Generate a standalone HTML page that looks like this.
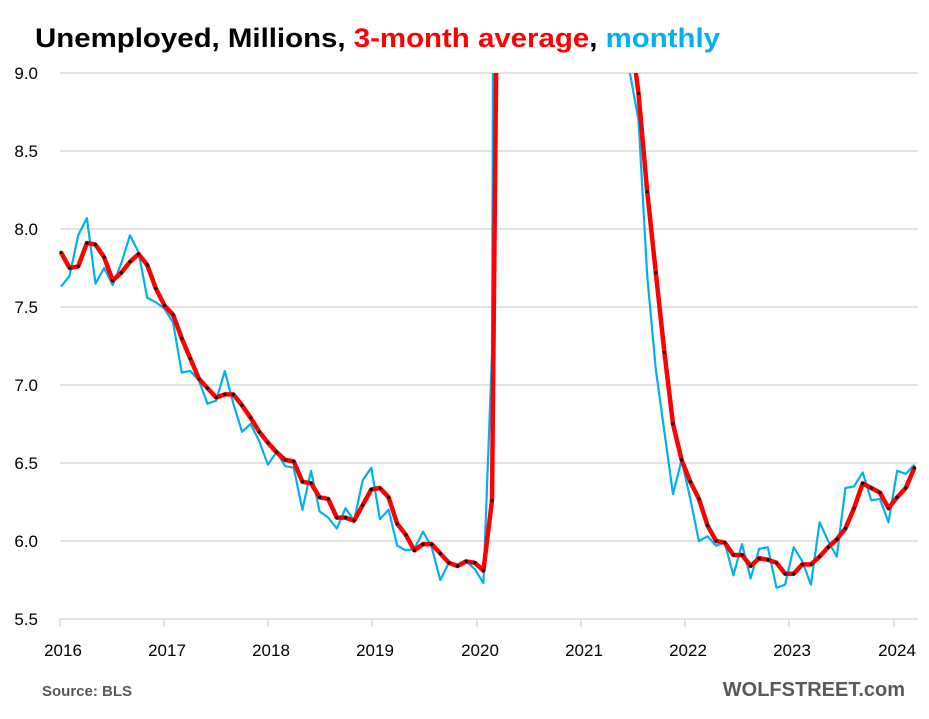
<!DOCTYPE html>
<html><head><meta charset="utf-8"><style>
html,body{margin:0;padding:0;background:#fff;}
svg{display:block;}
text{font-family:"Liberation Sans",sans-serif;}
</style></head><body>
<svg id="c" width="929" height="719" viewBox="0 0 929 719" xmlns="http://www.w3.org/2000/svg">
<defs><clipPath id="cp"><rect x="55" y="73" width="870" height="547"/></clipPath></defs>
<text x="35" y="47" font-size="27" font-weight="bold" textLength="685" lengthAdjust="spacingAndGlyphs"><tspan fill="#000">Unemployed, Millions, </tspan><tspan fill="#ff0000">3-month average</tspan><tspan fill="#000">, </tspan><tspan fill="#00b0f0">monthly</tspan></text>
<g stroke="#d9d9d9" stroke-width="1.5">
<line x1="60" x2="918" y1="73" y2="73"/><line x1="60" x2="918" y1="151" y2="151"/>
<line x1="60" x2="918" y1="229" y2="229"/><line x1="60" x2="918" y1="307" y2="307"/>
<line x1="60" x2="918" y1="385" y2="385"/><line x1="60" x2="918" y1="463" y2="463"/>
<line x1="60" x2="918" y1="541" y2="541"/><line x1="60" x2="918" y1="619" y2="619"/>
<line x1="60" x2="60" y1="619" y2="627"/><line x1="164" x2="164" y1="619" y2="627"/>
<line x1="268" x2="268" y1="619" y2="627"/><line x1="372" x2="372" y1="619" y2="627"/>
<line x1="477" x2="477" y1="619" y2="627"/><line x1="581" x2="581" y1="619" y2="627"/>
<line x1="685" x2="685" y1="619" y2="627"/><line x1="789" x2="789" y1="619" y2="627"/>
<line x1="894" x2="894" y1="619" y2="627"/>
</g>
<g font-size="17" fill="#000" text-anchor="end">
<text x="38" y="79">9.0</text><text x="38" y="157">8.5</text><text x="38" y="235">8.0</text>
<text x="38" y="313">7.5</text><text x="38" y="391">7.0</text><text x="38" y="469">6.5</text>
<text x="38" y="547">6.0</text><text x="38" y="625">5.5</text>
</g>
<g font-size="17" fill="#000" text-anchor="middle">
<text x="63" y="656">2016</text><text x="167" y="656">2017</text><text x="271" y="656">2018</text>
<text x="375" y="656">2019</text><text x="480" y="656">2020</text><text x="584" y="656">2021</text>
<text x="688" y="656">2022</text><text x="792" y="656">2023</text><text x="897" y="656">2024</text>
</g>
<text x="42" y="696" font-size="15" font-weight="bold" fill="#595959">Source: BLS</text>
<text x="905" y="696" font-size="20" font-weight="bold" fill="#595959" text-anchor="end">WOLFSTREET.com</text>
<g clip-path="url(#cp)">
<polyline id="blue" fill="none" stroke="#00b0f0" stroke-width="2.2" stroke-linejoin="round"/>
<polyline id="red" fill="none" stroke="#ff0000" stroke-width="4.5" stroke-linejoin="round"/>
<g id="dots" fill="#000"></g>
</g>
</svg>
<script>
var b=[7.63,7.70,7.96,8.07,7.65,7.75,7.64,7.78,7.96,7.85,7.56,7.53,
7.49,7.40,7.08,7.09,7.03,6.88,6.90,7.09,6.88,6.70,6.75,6.64,
6.49,6.57,6.48,6.47,6.20,6.45,6.19,6.15,6.08,6.21,6.13,6.39,
6.47,6.14,6.20,5.97,5.94,5.95,6.06,5.96,5.75,5.86,5.85,5.87,
5.82,5.73,7.20,23.1,21.0,17.7,16.3,13.6,12.6,11.1,10.7,10.7,
10.1,10.0,9.7,9.8,9.3,9.4,9.0,8.7,7.7,7.1,6.7,6.3,
6.52,6.27,6.0,6.03,5.97,5.99,5.78,5.98,5.76,5.95,5.96,5.70,
5.72,5.96,5.87,5.72,6.12,6.0,5.90,6.34,6.35,6.44,6.26,6.27,
6.12,6.45,6.43,6.49];
var r=[7.85,7.75,7.76,7.91,7.90,7.82,7.67,7.72,7.79,7.84,7.77,7.62,
7.51,7.45,7.30,7.17,7.04,6.98,6.92,6.94,6.94,6.87,6.79,6.70,
6.63,6.57,6.52,6.51,6.38,6.37,6.28,6.27,6.15,6.15,6.13,6.23,
6.33,6.34,6.28,6.11,6.04,5.94,5.98,5.98,5.92,5.86,5.84,5.87,
5.86,5.81,6.26];
for(var i=51;i<66;i++){r.push((b[i]+b[i-1]+b[i-2])/3);}
r=r.concat([9.3,8.87,8.24,7.72,7.21,6.75,6.52,6.38,6.27,6.10,6.0,5.99,5.91,5.91,5.84,5.89,5.88,5.86,5.79,5.79,5.85,5.85,5.90,5.96,6.01,6.08,6.21,6.37,6.34,6.31,6.21,6.28,6.34,6.47]);
function X(i){return 61+i*8.62;}function Y(v){return 73+(9-v)*156;}
function pts(a){return a.map(function(v,i){return X(i).toFixed(1)+","+Y(v).toFixed(1);}).join(" ");}
document.getElementById("blue").setAttribute("points",pts(b));
document.getElementById("red").setAttribute("points",pts(r));
var d="";r.forEach(function(v,i){d+='<circle cx="'+X(i).toFixed(1)+'" cy="'+Y(v).toFixed(1)+'" r="1.6"/>';});
document.getElementById("dots").innerHTML=d;
</script>
</body></html>
